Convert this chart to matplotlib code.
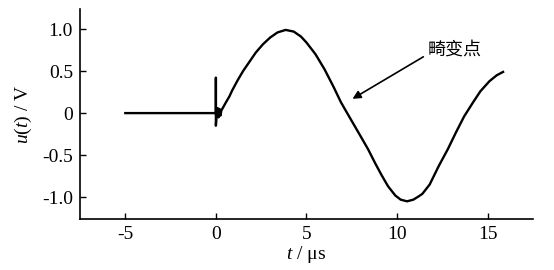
import matplotlib
matplotlib.use('Agg')
import matplotlib.pyplot as plt

plt.rcParams['font.family'] = ['Liberation Serif', 'DejaVu Serif']
plt.rcParams['mathtext.fontset'] = 'custom'
plt.rcParams['mathtext.it'] = 'Liberation Serif:italic'
plt.rcParams['mathtext.rm'] = 'Liberation Serif'
plt.rcParams['axes.unicode_minus'] = False

# waveform (t in us, u in V)
t = [-5.0, -3.0, -1.0, -0.05, 0.0, 0.0, 0.0, 0.05, 0.1, 0.15, 0.2, 0.25, 0.3,
     0.56, 0.75, 0.9, 1.2, 1.5, 1.85, 2.2, 2.6, 3.0, 3.4, 3.85, 4.3, 4.7, 5.0,
     5.5, 6.0, 6.5, 6.9, 7.3, 7.65, 8.0, 8.4, 8.8, 9.15, 9.5, 9.9, 10.2, 10.55,
     10.9, 11.2, 11.4, 11.8, 12.3, 12.8, 13.25, 13.7, 14.2, 14.6, 15.1, 15.5,
     15.85]
u = [0.0, 0.0, 0.0, 0.0, 0.0, 0.42, -0.15, 0.0, 0.06, -0.05, 0.05, -0.03, 0.03,
     0.13, 0.2, 0.27, 0.39, 0.5, 0.61, 0.72, 0.82, 0.9, 0.96, 0.99, 0.97, 0.91,
     0.84, 0.7, 0.52, 0.31, 0.13, -0.02, -0.15, -0.28, -0.43, -0.6, -0.74,
     -0.87, -0.98, -1.03, -1.05, -1.03, -0.99, -0.96, -0.85, -0.63, -0.43,
     -0.23, -0.04, 0.13, 0.26, 0.38, 0.45, 0.49]

xticks = [-5, 0, 5, 10, 15]
yticks = [1.0, 0.5, 0, -0.5, -1.0]
ytick_labels = ['1.0', '0.5', '0', '-0.5', '-1.0']

note = '畸变点'
note_xy = (7.54, 0.17)
note_text_xy = (11.45, 0.67)

fig = plt.figure(figsize=(5.54, 2.7), dpi=100)
ax = fig.add_axes([0.1444, 0.189, 0.8176, 0.778])

ax.plot(t, u, color='black', linewidth=1.7, solid_joinstyle='round')

ax.set_xlim(-7.5, 17.5)
ax.set_ylim(-1.26, 1.24)
ax.set_xticks(xticks)
ax.set_xticklabels([str(x) for x in xticks])
ax.set_yticks(yticks)
ax.set_yticklabels(ytick_labels)
ax.tick_params(direction='in', length=4, width=1, labelsize=14, pad=5)

ax.spines['top'].set_visible(False)
ax.spines['right'].set_visible(False)
ax.spines['left'].set_linewidth(1.2)
ax.spines['bottom'].set_linewidth(1.2)

ax.set_xlabel(r'$t$ / μs', fontsize=14, labelpad=1)
ax.set_ylabel(r'$u(t)$ / V', fontsize=14, labelpad=6)

ax.annotate('', xy=note_xy, xytext=note_text_xy,
            arrowprops=dict(arrowstyle='-|>', color='black', lw=1.2,
                            mutation_scale=12, shrinkA=0, shrinkB=0))
ax.text(note_text_xy[0] + 0.25, note_text_xy[1] + 0.09, note,
        family=['Noto Sans CJK SC', 'DejaVu Sans'], fontsize=13,
        fontweight='medium', va='center', ha='left')

fig.savefig('out.png', dpi=100)
